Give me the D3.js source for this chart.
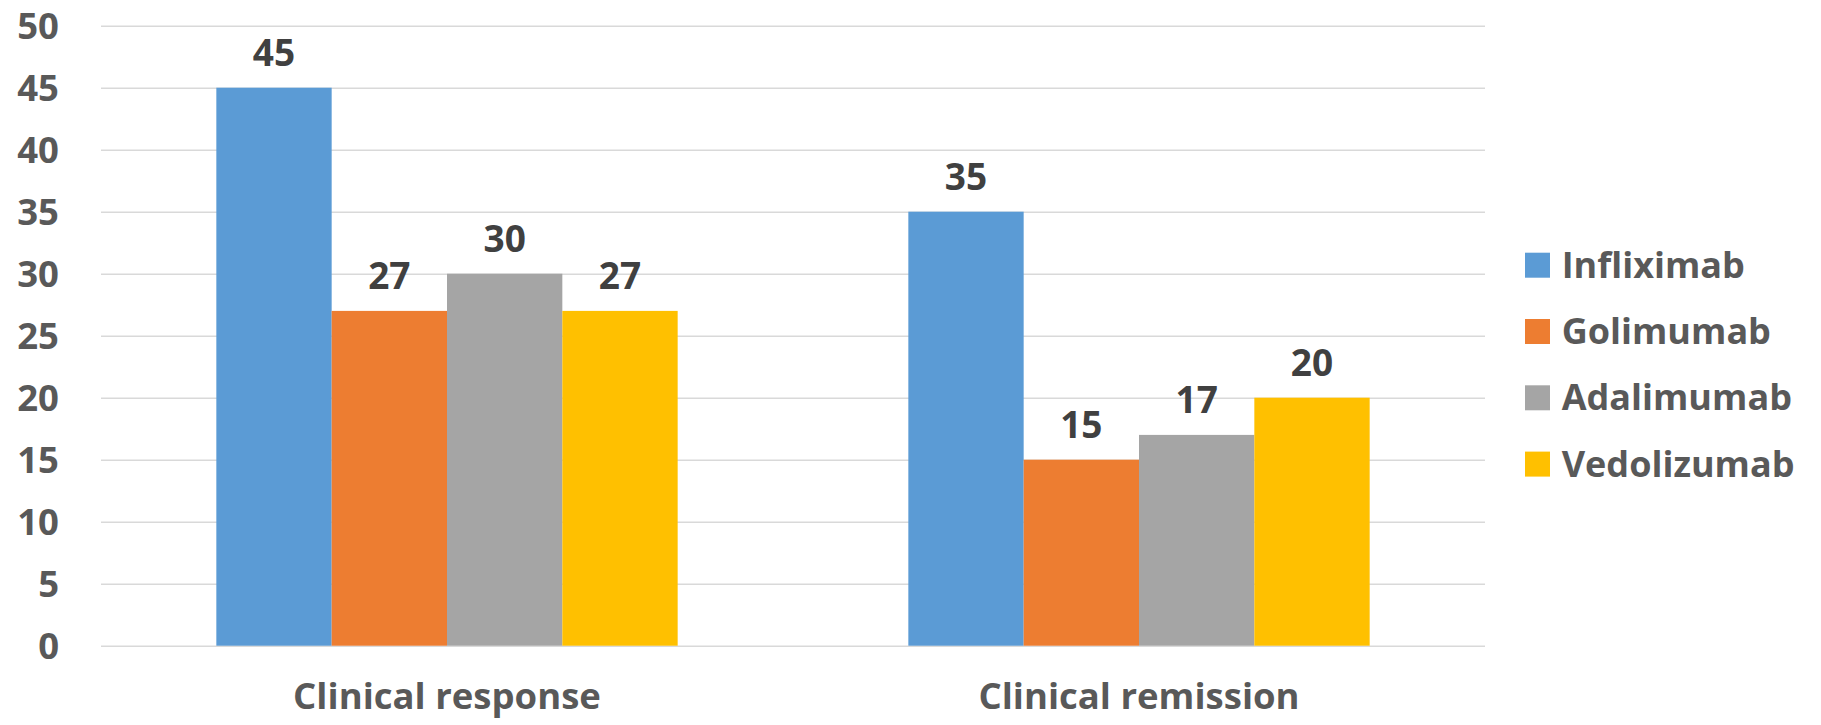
<!DOCTYPE html>
<html>
<head>
<meta charset="utf-8">
<script src="https://cdn.jsdelivr.net/npm/d3@7"></script>
<style>
  html, body { margin: 0; padding: 0; background: #fff; }
  svg { display: block; }
  text { font-family: "Open Sans", "DejaVu Sans", sans-serif; font-weight: 700; }
</style>
</head>
<body>
<svg id="chart" width="1821" height="725"></svg>
<script>
// Outcome categories and the four biologics compared in each
const categories = ["Clinical response", "Clinical remission"];
const seriesNames = ["Infliximab", "Golimumab", "Adalimumab", "Vedolizumab"];
const seriesColors = ["#5B9BD5", "#ED7D31", "#A5A5A5", "#FFC000"];

// Percentages per drug, in category order
const infliximab = [45, 35];
const golimumab = [27, 15];
const adalimumab = [30, 17];
const vedolizumab = [27, 20];

const yTicks = [0, 5, 10, 15, 20, 25, 30, 35, 40, 45, 50];

const seriesValues = [infliximab, golimumab, adalimumab, vedolizumab];

const svg = d3.select("#chart");
const plot = { left: 101, right: 1485, top: 25.7, bottom: 645.7 };

const y = d3.scaleLinear().domain([0, 50]).range([plot.bottom, plot.top]);
const x0 = d3.scaleBand().domain(categories).range([plot.left, plot.right]).paddingInner(0).paddingOuter(0);
const x1 = d3.scaleBand().domain(seriesNames).range([0, x0.bandwidth()]).paddingInner(0).paddingOuter(1);

// Horizontal gridlines
const yAxis = d3.axisLeft(y).tickValues(yTicks).tickSize(-(plot.right - plot.left)).tickFormat("");
const gy = svg.append("g").attr("transform", `translate(${plot.left},0)`).call(yAxis);
gy.select(".domain").remove();
gy.selectAll(".tick line").attr("stroke", "#D9D9D9").attr("stroke-width", 1.4);

// Y tick labels
svg.append("g").selectAll("text").data(yTicks).join("text")
  .attr("x", 59)
  .attr("y", d => y(d))
  .attr("dy", "0.36em")
  .attr("text-anchor", "end")
  .attr("fill", "#595959")
  .attr("font-size", 36.5)
  .text(d => d);

// Bars
const groups = svg.append("g").selectAll("g").data(categories).join("g")
  .attr("transform", d => `translate(${x0(d)},0)`);

groups.selectAll("rect")
  .data((c, ci) => seriesNames.map((s, si) => ({ s, si, v: seriesValues[si][ci] })))
  .join("rect")
  .attr("x", d => x1(d.s))
  .attr("y", d => y(d.v))
  .attr("width", x1.bandwidth())
  .attr("height", d => y(0) - y(d.v))
  .attr("fill", d => seriesColors[d.si]);

// Value labels above bars
groups.selectAll("text.val")
  .data((c, ci) => seriesNames.map((s, si) => ({ s, si, v: seriesValues[si][ci] })))
  .join("text")
  .attr("class", "val")
  .attr("x", d => x1(d.s) + x1.bandwidth() / 2)
  .attr("y", d => y(d.v) - 21.5)
  .attr("text-anchor", "middle")
  .attr("fill", "#404040")
  .attr("font-size", 37)
  .text(d => d.v);

// Category labels
svg.append("g").selectAll("text").data(categories).join("text")
  .attr("x", d => x0(d) + x0.bandwidth() / 2)
  .attr("y", 709)
  .attr("text-anchor", "middle")
  .attr("fill", "#595959")
  .attr("font-size", 36.5)
  .text(d => d);

// Legend
const legend = svg.append("g").selectAll("g").data(seriesNames).join("g")
  .attr("transform", (d, i) => `translate(1525,${252.7 + i * 66.3})`);
legend.append("rect")
  .attr("width", 25).attr("height", 25)
  .attr("fill", (d, i) => seriesColors[i]);
legend.append("text")
  .attr("x", 36.7)
  .attr("y", 25)
  .attr("fill", "#595959")
  .attr("font-size", 36)
  .text(d => d);
</script>
</body>
</html>
